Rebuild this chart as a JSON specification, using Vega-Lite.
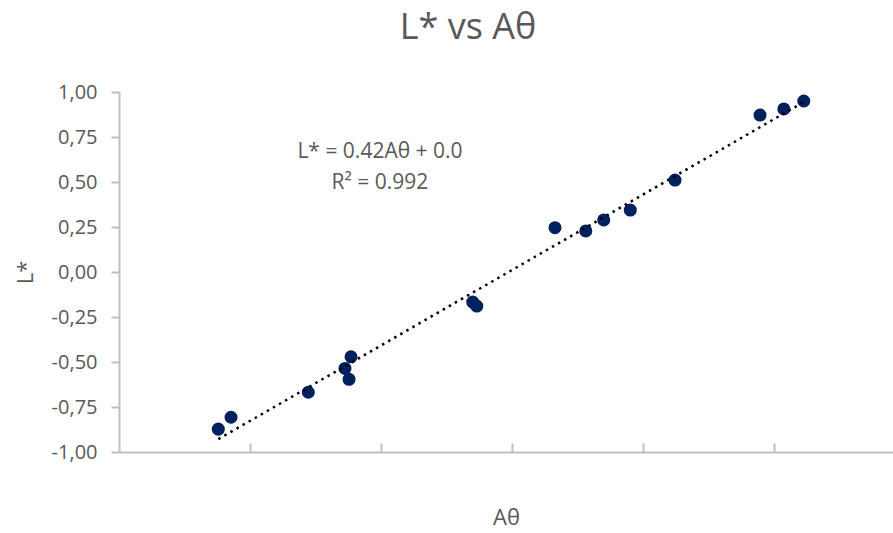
{
  "$schema": "https://vega.github.io/schema/vega-lite/v6.json",
  "autosize": {"type": "none"},
  "padding": {"left": 119, "top": 92, "right": 0, "bottom": 81},
  "width": 774,
  "height": 360,
  "background": "white",
  "title": {"text": "L* vs Aθ", "fontSize": 36, "font": "Open Sans", "fontWeight": "normal", "color": "#595959", "anchor": "middle", "frame": "group", "dx": -38, "offset": 35},
  "config": {
    "view": {"stroke": null},
    "locale": {"number": {"decimal": ",", "thousands": ".", "grouping": [3], "currency": ["", " €"], "minus": "-"}},
    "axis": {"grid": false, "domainColor": "#bfbfbf", "domainWidth": 2, "tickColor": "#bfbfbf", "tickWidth": 2, "labelFont": "Open Sans", "labelFontSize": 20, "labelColor": "#595959", "titleFont": "Open Sans", "titleFontSize": 22, "titleFontWeight": "normal", "titleColor": "#595959"}
  },
  "layer": [
    {
      "data": {"values": [
        {"A": 0.758, "L": -0.873},
        {"A": 0.855, "L": -0.807},
        {"A": 1.445, "L": -0.668},
        {"A": 1.725, "L": -0.536},
        {"A": 1.756, "L": -0.596},
        {"A": 1.771, "L": -0.471},
        {"A": 2.700, "L": -0.167},
        {"A": 2.731, "L": -0.189},
        {"A": 3.328, "L": 0.246},
        {"A": 3.563, "L": 0.228},
        {"A": 3.700, "L": 0.289},
        {"A": 3.903, "L": 0.344},
        {"A": 4.244, "L": 0.511},
        {"A": 4.893, "L": 0.872},
        {"A": 5.075, "L": 0.906},
        {"A": 5.227, "L": 0.950}
      ]},
      "layer": [
        {
          "mark": {"type": "circle", "size": 170, "color": "#002060", "opacity": 1},
          "encoding": {
            "x": {"field": "A", "type": "quantitative", "scale": {"domain": [0, 5.908], "nice": false, "zero": false},
              "axis": {"title": "Aθ", "labels": false, "values": [1, 2, 3, 4, 5], "tickSize": -9, "titlePadding": 54}},
            "y": {"field": "L", "type": "quantitative", "scale": {"domain": [-1, 1], "nice": false},
              "axis": {"title": "L*", "values": [-1, -0.75, -0.5, -0.25, 0, 0.25, 0.5, 0.75, 1], "format": ".2f", "tickSize": 8, "labelPadding": 14, "titlePadding": 14}}
          }
        },
        {
          "transform": [{"regression": "L", "on": "A"}],
          "mark": {"type": "line", "color": "#000000", "strokeWidth": 2.5, "strokeDash": [2.5, 4.5]},
          "encoding": {
            "x": {"field": "A", "type": "quantitative"},
            "y": {"field": "L", "type": "quantitative"}
          }
        }
      ]
    },
    {
      "data": {"values": [
        {"A": 1.992, "L": 0.667, "t": "L* = 0.42Aθ + 0.0"},
        {"A": 1.992, "L": 0.494, "t": "R² = 0.992"}
      ]},
      "mark": {"type": "text", "font": "Open Sans", "fontSize": 21, "color": "#595959", "align": "center", "baseline": "middle"},
      "encoding": {
        "x": {"field": "A", "type": "quantitative"},
        "y": {"field": "L", "type": "quantitative"},
        "text": {"field": "t"}
      }
    }
  ]
}
